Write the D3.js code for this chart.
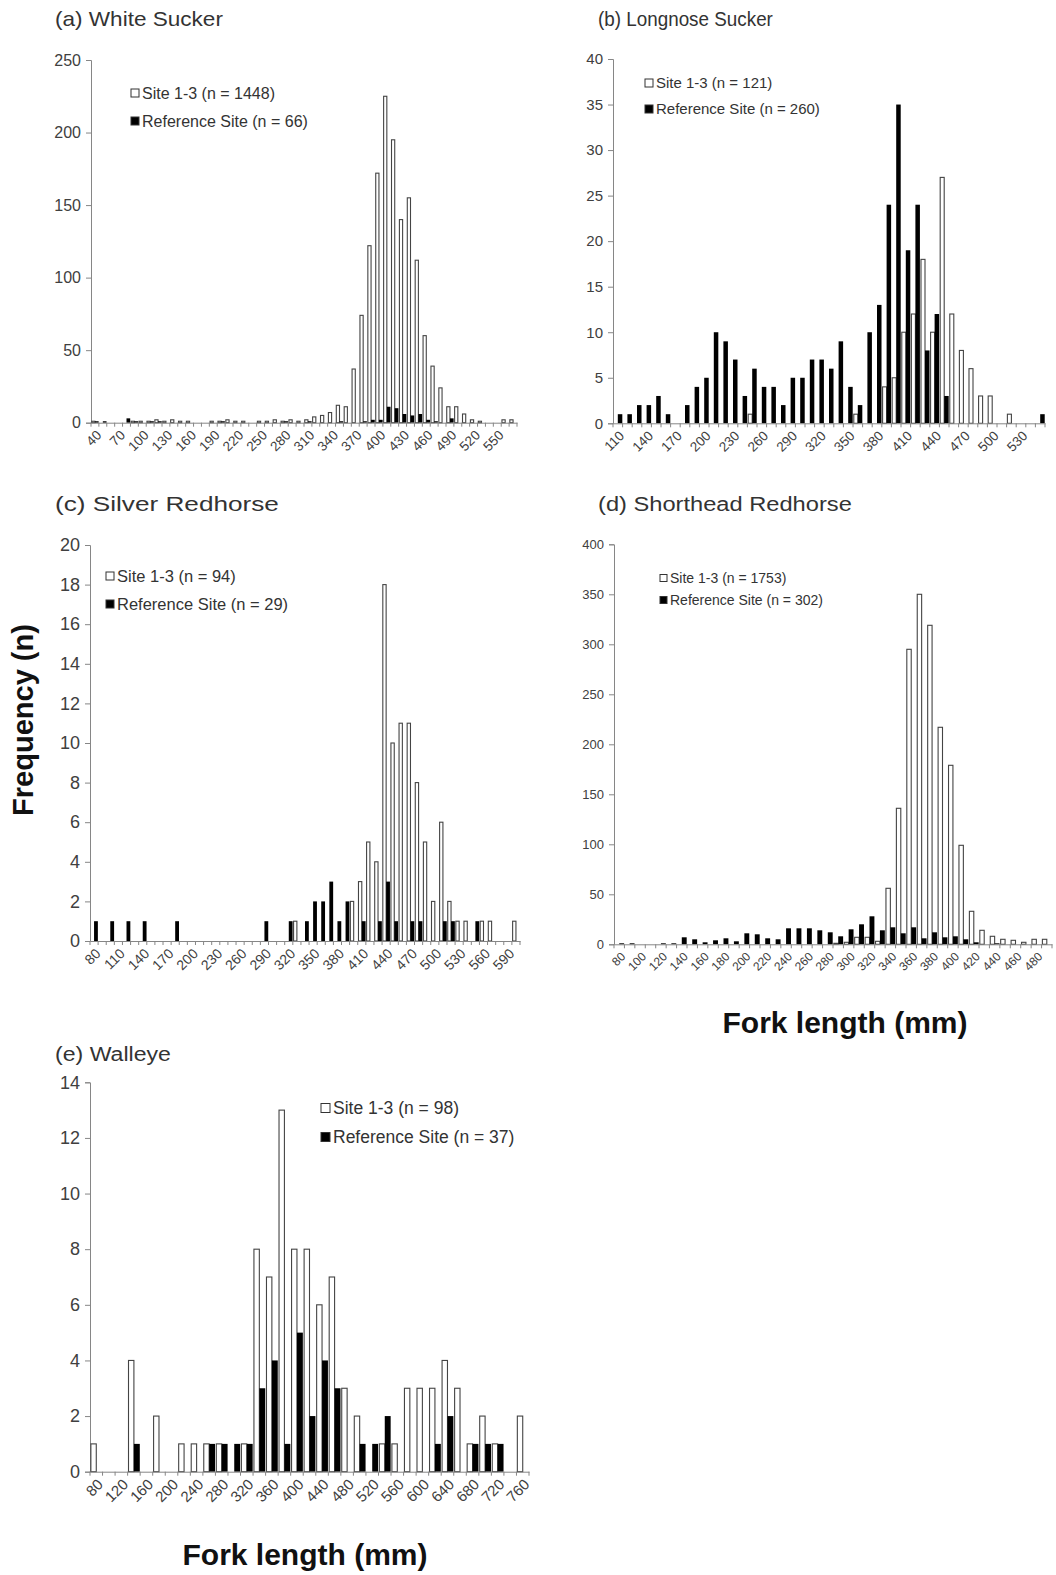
<!DOCTYPE html>
<html>
<head>
<meta charset="utf-8">
<script src="https://cdn.jsdelivr.net/npm/d3@7"></script>
<style>
  body { margin: 0; background: #fff; }
  svg { font-family: "Liberation Sans", Arial, sans-serif; }
  .title { fill: #333; }
  .legend text { fill: #333; }
  .bigLabel { fill: #111; font-weight: bold; }
</style>
</head>
<body>
<svg id="chart" width="1056" height="1575"></svg>
<script>
// (a) White Sucker
var catsA = [40,50,60,70,80,90,100,110,120,130,140,150,160,170,180,190,200,210,220,230,
             240,250,260,270,280,290,300,310,320,330,340,350,360,370,380,390,400,410,420,430,
             440,450,460,470,480,490,500,510,520,530,540,550,560,570];
var siteA = [1,0,0,0,0,1,1,1,2,1, 2,1,1,0,0,1,1,2,1,1,
             0,1,1,2,1,2,1,2,4,5, 7,12,11,37,74,122,172,225,195,140,
             155,112,60,39,24,11,11,6,2,1, 0,0,2,2];
var refA  = [1,1,0,0,3,1,0,1,1,0, 0,0,0,0,0,0,1,0,0,0,
             0,0,0,0,1,0,0,1,0,0, 0,1,0,0,1,2,2,11,10,6,
             5,6,2,1,0,3,0,0,0,0, 0,0,0,0];
var ticksA = [40,70,100,130,160,190,220,250,280,310,340,370,400,430,460,490,520,550];
var yTicksA = [0,50,100,150,200,250];

// (b) Longnose Sucker
var catsB = [110,120,130,140,150,160,170,180,190,200,210,220,230,240,250,260,270,280,290,300,
             310,320,330,340,350,360,370,380,390,400,410,420,430,440,450,460,470,480,490,500,
             510,520,530,540,550];
var siteB = [0,0,0,0,0,0,0,0,0,0, 0,0,0,0,1,0,0,0,0,0,
             0,0,0,0,0,1,0,0,4,5, 10,12,18,10,27,12,8,6,3,3,
             0,1,0,0,0];
var refB  = [1,1,2,2,3,1,0,2,4,5, 10,9,7,3,6,4,4,2,5,5,
             7,7,6,9,4,2,10,13,24,35, 19,24,8,12,3,0,0,0,0,0,
             0,0,0,0,1];
var ticksB = [110,140,170,200,230,260,290,320,350,380,410,440,470,500,530];
var yTicksB = [0,5,10,15,20,25,30,35,40];

// (c) Silver Redhorse
var catsC = [80,90,100,110,120,130,140,150,160,170,180,190,200,210,220,230,240,250,260,270,
             280,290,300,310,320,330,340,350,360,370,380,390,400,410,420,430,440,450,460,470,
             480,490,500,510,520,530,540,550,560,570,580,590,600];
var siteC = [0,0,0,0,0,0,0,0,0,0, 0,0,0,0,0,0,0,0,0,0,
             0,0,0,0,0,1,0,0,0,0, 0,0,2,3,5,4,18,10,11,11,
             8,5,2,6,2,1,1,0,1,1, 0,0,1];
var refC  = [1,0,1,0,1,0,1,0,0,0, 1,0,0,0,0,0,0,0,0,0,
             0,1,0,0,1,0,1,2,2,3, 1,2,0,1,0,1,3,1,0,1,
             1,0,0,1,1,0,0,1,0,0, 0,0,0];
var ticksC = [80,110,140,170,200,230,260,290,320,350,380,410,440,470,500,530,560,590];
var yTicksC = [0,2,4,6,8,10,12,14,16,18,20];

// (d) Shorthead Redhorse
var catsD = [80,90,100,110,120,130,140,150,160,170,180,190,200,210,220,230,240,250,260,270,
             280,290,300,310,320,330,340,350,360,370,380,390,400,410,420,430,440,450,460,470,
             480,490];
var siteD = [0,0,0,0,0,0,0,0,0,0, 0,0,0,0,0,0,0,0,0,0,
             0,1,2,7,7,3,56,136,295,350, 319,217,179,99,33,14,8,5,4,2,
             5,5];
var refD  = [1,1,0,0,1,1,7,5,2,4, 6,3,11,10,6,5,16,16,16,14,
             12,8,15,20,28,14,17,11,17,6, 12,7,8,5,2,0,1,0,0,0,
             0,0];
var ticksD = [80,100,120,140,160,180,200,220,240,260,280,300,320,340,360,380,400,420,440,460,480];
var yTicksD = [0,50,100,150,200,250,300,350,400];

// (e) Walleye
var catsE = [80,100,120,140,160,180,200,220,240,260,280,300,320,340,360,380,400,420,440,460,
             480,500,520,540,560,580,600,620,640,660,680,700,720,740,760];
var siteE = [1,0,0,4,0,2,0,1,1,1, 1,0,1,8,7,13,8,8,6,7,
             3,2,0,1,1,3,3,3,4,3, 1,2,1,0,2];
var refE  = [0,0,0,1,0,0,0,0,0,1, 1,1,1,3,4,1,5,2,4,3,
             0,1,1,2,0,0,0,1,2,0, 1,1,1,0,0];
var ticksE = [80,120,160,200,240,280,320,360,400,440,480,520,560,600,640,680,720,760];
var yTicksE = [0,2,4,6,8,10,12,14];

var svg = d3.select("#chart");
var axisGrey = "#868686";

var panels = [
  { title: "(a) White Sucker", tx: 55, ty: 26, tFont: 21, tLen: 168,
    cats: catsA, site: siteA, ref: refA, ticks: ticksA, yTicks: yTicksA,
    left: 91, right: 517, top: 60, bottom: 422.7, yFont: 16, xFont: 13.5,
    legX: 131, legY: 93, legGap: 28, legFont: 16, siteN: 1448, refN: 66 },
  { title: "(b) Longnose  Sucker", tx: 598, ty: 26, tFont: 20, tLen: 175,
    cats: catsB, site: siteB, ref: refB, ticks: ticksB, yTicks: yTicksB,
    left: 613, right: 1045, top: 59, bottom: 423.3, yFont: 15, xFont: 13.5,
    legX: 645, legY: 83, legGap: 26, legFont: 15, siteN: 121, refN: 260 },
  { title: "(c) Silver Redhorse", tx: 55, ty: 511, tFont: 21, tLen: 224,
    cats: catsC, site: siteC, ref: refC, ticks: ticksC, yTicks: yTicksC,
    left: 90, right: 520, top: 545, bottom: 941, yFont: 18, xFont: 14,
    legX: 106, legY: 576, legGap: 28, legFont: 16.5, siteN: 94, refN: 29 },
  { title: "(d) Shorthead Redhorse", tx: 598, ty: 511, tFont: 21, tLen: 254,
    cats: catsD, site: siteD, ref: refD, ticks: ticksD, yTicks: yTicksD,
    left: 614, right: 1052, top: 544.3, bottom: 944.3, yFont: 13, xFont: 12,
    legX: 660, legY: 578, legGap: 22, legFont: 14, siteN: 1753, refN: 302 },
  { title: "(e) Walleye", tx: 55, ty: 1061, tFont: 21, tLen: 116,
    cats: catsE, site: siteE, ref: refE, ticks: ticksE, yTicks: yTicksE,
    left: 90, right: 529, top: 1082.3, bottom: 1471.7, yFont: 18, xFont: 15,
    legX: 321, legY: 1108, legGap: 29, legFont: 17.5, siteN: 98, refN: 37 }
];

panels.forEach(drawPanel);

function drawPanel(p) {
  var g = svg.append("g");

  // title, stretched sideways to the width it has in the figure
  var t = svg.append("text").attr("class", "title")
     .style("font-size", p.tFont + "px")
     .text(p.title);
  var tw = t.node().getComputedTextLength();
  t.attr("transform", "translate(" + p.tx + "," + p.ty + ") scale(" + (p.tLen / tw) + ",1)");

  var x = d3.scaleBand().domain(p.cats).range([p.left, p.right])
            .paddingInner(0.06).paddingOuter(0.03);
  var sub = d3.scaleBand().domain(["site", "ref"]).range([0, x.bandwidth()]);
  var y = d3.scaleLinear().domain([0, d3.max(p.yTicks)]).range([p.bottom, p.top]);

  // y axis
  var gy = g.append("g")
     .attr("transform", "translate(" + p.left + ",0)")
     .call(d3.axisLeft(y).tickValues(p.yTicks).tickSize(5).tickPadding(5));
  gy.selectAll("path, line").attr("stroke", axisGrey);
  gy.selectAll("text").attr("fill", "#404040").style("font-size", p.yFont + "px")
     .style("font-family", "'Liberation Sans', Arial, sans-serif");

  // bars
  var rows = p.cats.map(function(c, i) { return { cat: c, site: p.site[i], ref: p.ref[i] }; });

  g.selectAll(".site").data(rows.filter(function(d) { return d.site > 0; }))
   .enter().append("rect")
   .attr("x", function(d) { return x(d.cat) + sub("site") + 0.5; })
   .attr("width", sub.bandwidth() - 0.5)
   .attr("y", function(d) { return y(d.site); })
   .attr("height", function(d) { return p.bottom - y(d.site); })
   .attr("fill", "#fff").attr("stroke", "#444").attr("stroke-width", 1.1);

  g.selectAll(".ref").data(rows.filter(function(d) { return d.ref > 0; }))
   .enter().append("rect")
   .attr("x", function(d) { return x(d.cat) + sub("ref"); })
   .attr("width", sub.bandwidth())
   .attr("y", function(d) { return y(d.ref); })
   .attr("height", function(d) { return p.bottom - y(d.ref); })
   .attr("fill", "#000");

  // x axis
  var gx = g.append("g")
     .attr("transform", "translate(0," + p.bottom + ")")
     .call(d3.axisBottom(x).tickValues(p.ticks).tickSize(0).tickSizeOuter(0));
  gx.select(".domain").attr("stroke", axisGrey);
  gx.selectAll(".tick text")
     .attr("fill", "#404040")
     .style("font-size", p.xFont + "px")
     .style("font-family", "'Liberation Sans', Arial, sans-serif")
     .attr("text-anchor", "end")
     .attr("x", 0).attr("y", 0).attr("dy", "0.35em")
     .attr("transform", "translate(4,10) rotate(-45)");

  // minor ticks at category boundaries
  var half = (x.step() - x.bandwidth()) / 2;
  var bounds = p.cats.map(function(c) { return x(c) - half; });
  bounds.push(x(p.cats[p.cats.length - 1]) + x.bandwidth() + half);
  gx.selectAll(".minor").data(bounds).enter().append("line")
     .attr("x1", function(d) { return d; }).attr("x2", function(d) { return d; })
     .attr("y1", 0).attr("y2", 4).attr("stroke", axisGrey);

  // legend
  var lg = svg.append("g").attr("class", "legend");
  var items = [
    { fill: "#fff", label: "Site 1-3 (n = " + p.siteN + ")" },
    { fill: "#000", label: "Reference Site (n = " + p.refN + ")" }
  ];
  var sq = Math.round(p.legFont * 0.5);
  items.forEach(function(it, i) {
    var cy = p.legY + i * p.legGap;
    lg.append("rect").attr("x", p.legX).attr("y", cy - sq / 2)
      .attr("width", sq).attr("height", sq)
      .attr("fill", it.fill).attr("stroke", "#333").attr("stroke-width", 1);
    lg.append("text").attr("x", p.legX + sq + 3).attr("y", cy)
      .attr("dy", "0.36em").style("font-size", p.legFont + "px").text(it.label);
  });
}

// shared axis titles
svg.append("text").attr("class", "bigLabel").style("font-size", "29px")
   .attr("transform", "translate(33,720) rotate(-90)")
   .attr("text-anchor", "middle").text("Frequency (n)");
svg.append("text").attr("class", "bigLabel").style("font-size", "30px")
   .attr("x", 845).attr("y", 1033).attr("text-anchor", "middle").text("Fork length (mm)");
svg.append("text").attr("class", "bigLabel").style("font-size", "30px")
   .attr("x", 305).attr("y", 1565).attr("text-anchor", "middle").text("Fork length (mm)");
</script>
</body>
</html>
